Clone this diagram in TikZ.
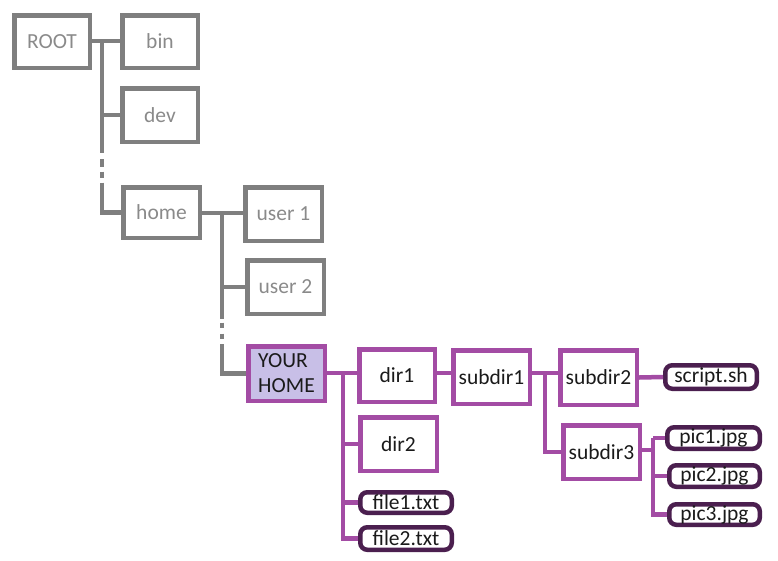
\documentclass[tikz,border=0pt]{standalone}
\usepackage{fontspec}
\setmainfont{Carlito}
\definecolor{sysgray}{HTML}{7F7F7F}
\definecolor{systext}{HTML}{8A8A8A}
\definecolor{homepurple}{HTML}{A34CA4}
\definecolor{homefill}{HTML}{C8BFE7}
\definecolor{filedark}{HTML}{4B1F4F}
\definecolor{ink}{HTML}{1A1A1A}
\begin{document}
\begin{tikzpicture}[x=1pt,y=-1pt,
  lbl/.style={font=\fontsize{21.5}{24}\selectfont, inner sep=0pt},
  sz/.style 2 args={minimum width=#1pt-4.5pt, minimum height=#2pt-4.5pt},
  sysdir/.style={lbl, rectangle, draw=sysgray, line width=4.5pt, text=systext},
  mydir/.style={lbl, rectangle, draw=homepurple, line width=4.5pt, text=ink},
  myfile/.style={lbl, rectangle, rounded corners=7pt, draw=filedark, line width=4.5pt, text=ink},
  syslink/.style={draw=sysgray, line width=4.5pt},
  mylink/.style={draw=homepurple, line width=4.5pt},
]
\useasboundingbox (0,0) rectangle (778,560);

% system directories
\node[sysdir, sz={80}{57}] (root) at (52,41.5) {ROOT};
\node[sysdir, sz={80}{57}] (bin)  at (160,41.5) {bin};
\node[sysdir, sz={80}{58}] (dev)  at (160,115) {dev};
\node[sysdir, sz={81}{55}] (home) at (161.5,212.5) {home};
\node[sysdir, sz={81}{58}] (user1) at (283.5,214) {user 1};
\node[sysdir, sz={81}{58}] (user2) at (285.5,287) {user 2};

% the user's own tree
\node[mydir, fill=homefill, sz={81}{59}, align=left] (yhome) at (286.5,373.5) {YOUR\\[1pt]HOME};
\node[mydir, sz={80}{57}] (dir1) at (397,375.5) {dir1};
\node[mydir, sz={81}{58}] (dir2) at (398.5,444) {dir2};
\node[mydir, sz={81}{58}] (sub1) at (491.5,377) {subdir1};
\node[mydir, sz={81}{59}] (sub2) at (598.5,377.5) {subdir2};
\node[mydir, sz={81}{58}] (sub3) at (601.5,452) {subdir3};
\node[myfile, sz={96}{25}] (file1) at (406,502.5) {file1.txt};
\node[myfile, sz={96}{27}] (file2) at (406,538.5) {file2.txt};
\node[myfile, sz={96}{28}] (script) at (711,377) {script.sh};
\node[myfile, sz={97}{26}] (pic1) at (713.5,438) {pic1.jpg};
\node[myfile, sz={95}{26}] (pic2) at (714.5,476) {pic2.jpg};
\node[myfile, sz={95}{25}] (pic3) at (714.5,514.5) {pic3.jpg};

% trunk positions
\coordinate (rt) at (102,41);
\coordinate (ht) at (222,213);
\coordinate (yt) at (343,373);
\coordinate (st) at (545,373);
\coordinate (pt) at (653,450);

% ROOT branches (with elision dots before home)
\draw[syslink] (root.east |- rt) -- (bin.west |- rt);
\draw[syslink] (rt) -- (102,153);
\draw[syslink] (102,159) -- (102,166.5);
\draw[syslink] (102,171.5) -- (102,177.5);
\draw[syslink] (102,182.5) -- (rt |- home.west) -- (home.west);
\draw[syslink] (rt |- dev.west) -- (dev.west);

% home branches (with elision dots before YOUR HOME)
\draw[syslink] (home.east |- ht) -- (user1.west |- ht);
\draw[syslink] (ht) -- (222,319);
\draw[syslink] (222,322.5) -- (222,328);
\draw[syslink] (222,333.5) -- (222,339);
\draw[syslink] (222,344) -- (ht |- yhome.west) -- (yhome.west);
\draw[syslink] (ht |- user2.west) -- (user2.west);

% YOUR HOME branches
\draw[mylink] (yhome.east |- yt) -- (dir1.west |- yt);
\draw[mylink] (yt) -- (yt |- file2.west) -- (file2.west);
\draw[mylink] (yt |- dir2.west) -- (dir2.west);
\draw[mylink] (yt |- file1.west) -- (file1.west);

% dir1 -> subdir1 -> subdir2 / subdir3
\draw[mylink] (dir1.east |- yt) -- (sub1.west |- yt);
\draw[mylink] (sub1.east |- st) -- (sub2.west |- st);
\draw[mylink] (st) -- (st |- sub3.west) -- (sub3.west);

% files of subdir2 and subdir3
\draw[mylink] (sub2.east) -- (script.west);
\draw[mylink] (sub3.east |- pt) -- (pt);
\draw[mylink] (pt |- pic1.west) -- (pt |- pic3.west) -- (pic3.west);
\draw[mylink] (pt |- pic1.west) -- (pic1.west);
\draw[mylink] (pt |- pic2.west) -- (pic2.west);
\end{tikzpicture}
\end{document}
